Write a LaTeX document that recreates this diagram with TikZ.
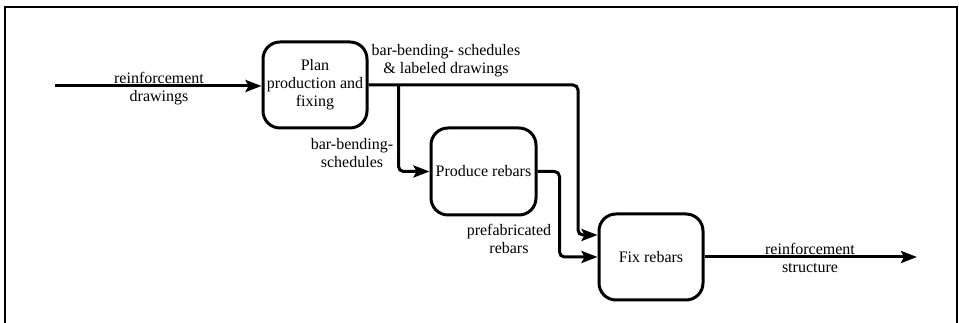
\documentclass[tikz,border=0pt]{standalone}
\usepackage{fontspec}
\setmainfont{Liberation Serif}
\usetikzlibrary{arrows.meta,calc}
\begin{document}
\begin{tikzpicture}[x=1pt,y=1pt,
  proc/.style={draw, line width=3pt, rounded corners=17pt, minimum width=104pt,
    minimum height=86pt, align=center, inner sep=1pt, font=\fontsize{16}{18}\selectfont},
  flow/.style={line width=3pt, rounded corners=5pt,
    -{Stealth[length=16pt,width=12pt,inset=3pt]}},
  lbl/.style={align=center, inner sep=0pt, font=\fontsize{16}{18}\selectfont}]
\useasboundingbox (0,0) rectangle (959,323);
% outer frame
\draw[line width=2pt] (5,-2) -- (5,316) -- (957,316) -- (957,-2);
% process boxes
\node[proc] (plan) at (315,238) {Plan\\production and\\fixing};
\node[proc, minimum width=105pt, minimum height=87pt] (produce) at (483.5,151.5) {Produce rebars};
\node[proc] (fix) at (651,66) {Fix rebars};
% free ends
\coordinate (in) at (55,237);
\coordinate (out) at (917,66);
\coordinate (split) at ($(plan.east)+(30,0)$);
\coordinate (topturn) at (578,238);
% connectors
\draw[flow] (in) -- (in -| plan.west);
\draw[flow] (plan.east) -- (topturn) |- ($(fix.west)+(0,22)$);
\draw[flow] (split) |- (produce.west);
\draw[flow] (produce.east) -- ++(22,0) |- (fix.west);
\draw[flow] (fix.east) -- (out);
% flow labels
\node[lbl] (l1) at (159,234) {reinforcement\\drawings};
\node[lbl] (l2) at (446,262) {bar-bending- schedules\\\& labeled drawings};
\node[lbl] (l3) at (352,169.5) {bar-bending-\\schedules};
\node[lbl] (l4) at (509,84.5) {prefabricated\\rebars};
\node[lbl] (l5) at (810,65.5) {reinforcement\\structure};
\end{tikzpicture}
\end{document}
